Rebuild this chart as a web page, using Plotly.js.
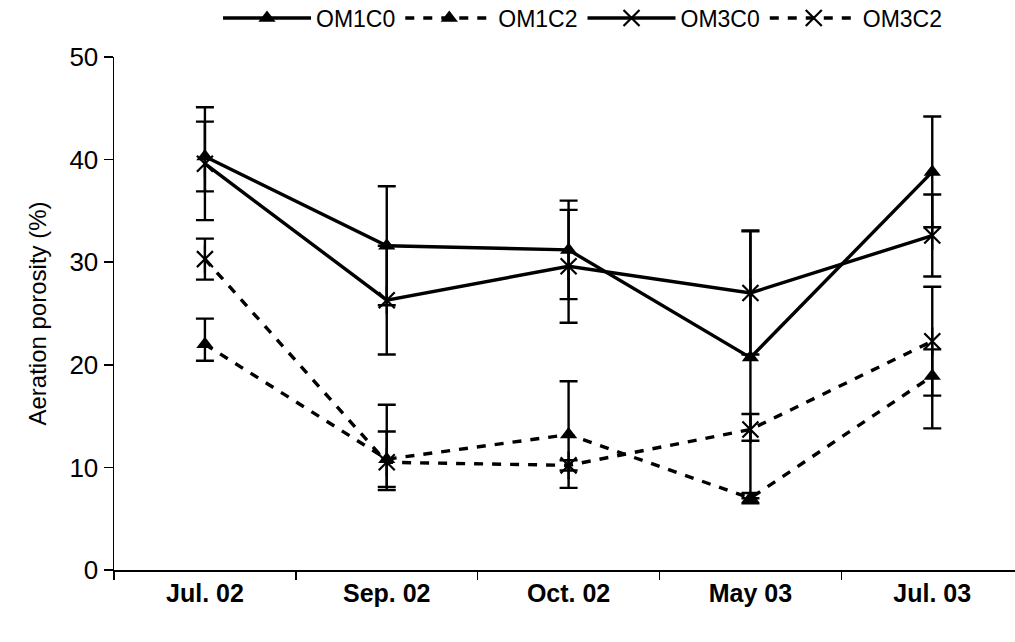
<!DOCTYPE html>
<html>
<head>
<meta charset="utf-8">
<script src="https://cdn.plot.ly/plotly-3.0.1.min.js"></script>
<style>html,body{margin:0;padding:0;background:#fff;}#chart{width:1015px;height:642px;}</style>
</head>
<body>
<div id="chart"></div>
<script>
var categories = ["Jul. 02", "Sep. 02", "Oct. 02", "May 03", "Jul. 03"];

var om1c0 = [40.3, 31.6, 31.2, 20.7, 38.8];
var om1c0ErrPlus = [3.4, 5.8, 4.8, 12.4, 5.4];
var om1c0ErrMinus = [3.4, 5.8, 4.8, 13.7, 5.4];

var om1c2 = [22.0, 10.8, 13.2, 7.0, 18.9];
var om1c2ErrPlus = [2.5, 5.3, 5.2, 0.5, 2.6];
var om1c2ErrMinus = [1.6, 2.7, 5.2, 0.5, 5.1];

var om3c0 = [39.6, 26.3, 29.6, 27.0, 32.6];
var om3c0Err = [5.5, 5.3, 5.5, 6.0, 4.0];

var om3c2 = [30.3, 10.5, 10.2, 13.7, 22.3];
var om3c2ErrPlus = [2.0, 3.0, 0.5, 1.5, 5.3];
var om3c2ErrMinus = [2.0, 2.7, 0.5, 1.1, 5.3];

var seriesNames = ["OM1C0", "OM1C2", "OM3C0", "OM3C2"];

function eb(plus, minus) {
  return {type: "data", symmetric: false, array: plus, arrayminus: minus,
          color: "#000", thickness: 2.4, width: 9, visible: true};
}

var traces = [
  {x: categories, y: om1c0, name: seriesNames[0], type: "scatter", mode: "lines+markers",
   line: {color: "#000", width: 3.4, dash: "solid"},
   marker: {symbol: "triangle-up", size: 15, color: "#000"},
   error_y: eb(om1c0ErrPlus, om1c0ErrMinus)},
  {x: categories, y: om1c2, name: seriesNames[1], type: "scatter", mode: "lines+markers",
   line: {color: "#000", width: 3.4, dash: "9px,9px"},
   marker: {symbol: "triangle-up", size: 15, color: "#000"},
   error_y: eb(om1c2ErrPlus, om1c2ErrMinus)},
  {x: categories, y: om3c0, name: seriesNames[2], type: "scatter", mode: "lines+markers",
   line: {color: "#000", width: 3.4, dash: "solid"},
   marker: {symbol: "x-thin-open", size: 16, color: "#000", line: {width: 2.2, color: "#000"}},
   error_y: eb(om3c0Err, om3c0Err)},
  {x: categories, y: om3c0, name: seriesNames[2], type: "scatter", mode: "markers", showlegend: false,
   marker: {symbol: "line-ns-open", size: 20, color: "#000", line: {width: 2.2, color: "#000"}},
   hoverinfo: "skip"},
  {x: categories, y: om3c2, name: seriesNames[3], type: "scatter", mode: "lines+markers",
   line: {color: "#000", width: 3.4, dash: "9px,9px"},
   marker: {symbol: "x-thin-open", size: 16, color: "#000", line: {width: 2.2, color: "#000"}},
   error_y: eb(om3c2ErrPlus, om3c2ErrMinus)},
  {x: categories, y: om3c2, name: seriesNames[3], type: "scatter", mode: "markers", showlegend: false,
   marker: {symbol: "line-ns-open", size: 20, color: "#000", line: {width: 2.2, color: "#000"}},
   hoverinfo: "skip"}
];

var layout = {
  width: 1015, height: 642,
  margin: {l: 114, r: 0, t: 57, b: 72, autoexpand: false},
  paper_bgcolor: "#fff", plot_bgcolor: "#fff",
  font: {family: "Liberation Sans, Arial, sans-serif", color: "#000"},
  showlegend: true,
  legend: {orientation: "h", x: 0.52, xanchor: "center", y: 1.076, yanchor: "middle",
           font: {size: 23, color: "#000"}, traceorder: "normal", itemwidth: 88,
           tracegroupgap: 0},
  xaxis: {type: "category", range: [-0.5, 4.455], tickson: "boundaries",
          ticks: "outside", ticklen: 8, tickwidth: 1.5, tickcolor: "#000",
          showline: true, linecolor: "#000", linewidth: 1.5, showgrid: false, zeroline: false,
          tickfont: {size: 25, color: "#000", family: "Liberation Sans, Arial, sans-serif", weight: "bold"}},
  yaxis: {range: [0, 50], dtick: 10, tick0: 0, ticks: "outside", ticklen: 9, tickwidth: 1.5,
          tickcolor: "#000", showline: true, linecolor: "#000", linewidth: 1.5,
          showgrid: false, zeroline: false,
          tickfont: {size: 26, color: "#000"},
          title: {text: "Aeration porosity (%)", font: {size: 24, color: "#000"}, standoff: 16}}
};

Plotly.newPlot("chart", traces, layout, {displayModeBar: false, staticPlot: true});
</script>
</body>
</html>
